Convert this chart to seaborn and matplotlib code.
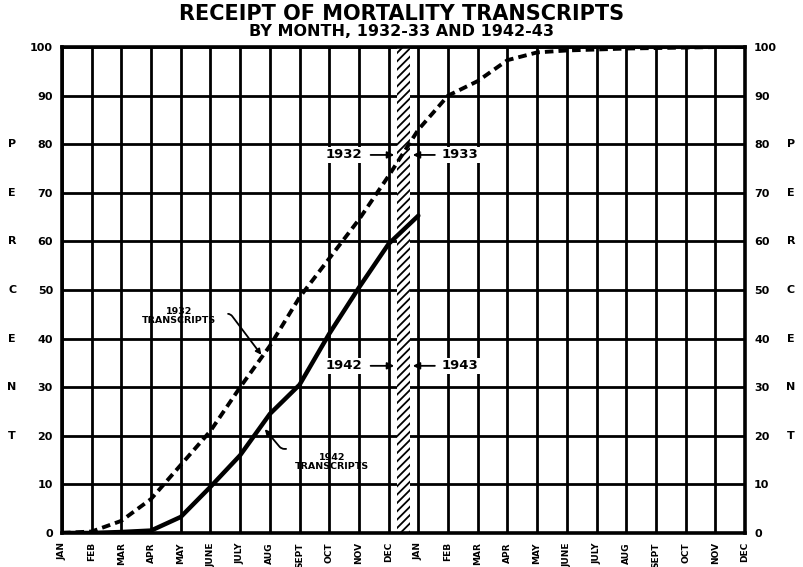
# Cumulative receipt of mortality transcripts, 1932-33 vs 1942-43

import pandas as pd
import seaborn as sns
import matplotlib.pyplot as plt

# Data (percent received, cumulative, by month)

months = ['JAN', 'FEB', 'MAR', 'APR', 'MAY', 'JUNE', 'JULY', 'AUG', 'SEPT', 'OCT', 'NOV', 'DEC']
month_labels = months + months

pct_1932 = [0, 0.3, 2.5, 7, 14, 21, 30, 38.5, 48.5, 56.5, 64.5, 73.5,
            83, 90, 93, 97.3, 98.9, 99.3, 99.5, 99.7, 99.8, 99.9, 100, 100]
pct_1942 = [0, 0, 0.2, 0.5, 3.3, 9.5, 16, 24.5, 30.5, 41, 50.5, 59.5, 65.3]

yticks = [0, 10, 20, 30, 40, 50, 60, 70, 80, 90, 100]
percent_letters = ['P', 'E', 'R', 'C', 'E', 'N', 'T']

df_1932 = pd.DataFrame({'month': range(len(pct_1932)), 'percent': pct_1932})
df_1942 = pd.DataFrame({'month': range(len(pct_1942)), 'percent': pct_1942})

# Configure plotting window

sns.set_style('white')
plt.rcParams['font.family'] = ['DejaVu Sans']
plt.rcParams['font.weight'] = 'bold'
plt.rcParams['text.color'] = 'black'
plt.rcParams['xtick.color'] = 'black'
plt.rcParams['ytick.color'] = 'black'
plt.rcParams['hatch.linewidth'] = 1.3

fig = plt.figure(figsize=(8.04, 5.67), dpi=100)
ax = fig.add_axes([0.0771, 0.060, 0.8495, 0.857])

# Heavy grid
for x in range(len(month_labels)):
    ax.axvline(x, color='black', lw=2.0, zorder=1)
for y in yticks:
    ax.axhline(y, color='black', lw=2.0, zorder=1)

# Year boundary band
ax.axvspan(11.28, 11.72, facecolor='white', edgecolor='black', hatch='////', lw=0, zorder=2)

sns.lineplot(data=df_1932, x='month', y='percent', ax=ax, color='black',
             lw=2.8, zorder=3)
ax.lines[-1].set_dashes((2.2, 1.3))
sns.lineplot(data=df_1942, x='month', y='percent', ax=ax, color='black',
             lw=3.2, zorder=3)

ax.set_xlim(0, 23)
ax.set_ylim(0, 100)
ax.set_xticks(range(len(month_labels)))
ax.set_xticklabels(month_labels, rotation=90, fontsize=6.5, fontweight='bold')
ax.set_yticks(yticks)
ax.set_yticklabels([str(v) for v in yticks], fontsize=8, fontweight='bold')
ax.tick_params(axis='y', left=False, right=False, labelleft=True, labelright=True, pad=3)
ax.tick_params(axis='x', bottom=False, pad=3)
ax.set_xlabel('')
ax.set_ylabel('')
for s in ax.spines.values():
    s.set_linewidth(2.6)
    s.set_color('black')

# PERCENT written down both sides
for letter, y in zip(percent_letters, [80, 70, 60, 50, 40, 30, 20]):
    ax.text(-1.68, y, letter, ha='center', va='center', fontsize=8, fontweight='bold')
    ax.text(24.55, y, letter, ha='center', va='center', fontsize=8, fontweight='bold')

# Titles
fig.text(0.5, 0.975, 'RECEIPT OF MORTALITY TRANSCRIPTS', ha='center', va='center',
         fontsize=15, fontweight='bold')
fig.text(0.5, 0.944, 'BY MONTH, 1932-33 AND 1942-43', ha='center', va='center',
         fontsize=11.5, fontweight='bold')

# Series labels with leaders
ax.text(3.95, 44.7, '1932\nTRANSCRIPTS', ha='center', va='center', fontsize=6.8,
        fontweight='bold', linespacing=1.0, zorder=4)
ax.annotate('', xy=(6.77, 36.2), xytext=(5.5, 45.1),
            arrowprops=dict(arrowstyle='-|>', color='black', lw=1.3, mutation_scale=8,
                            connectionstyle='angle,angleA=0,angleB=127,rad=3'))
ax.text(9.1, 14.6, '1942\nTRANSCRIPTS', ha='center', va='center', fontsize=6.8,
        fontweight='bold', linespacing=1.0, zorder=4)
ax.annotate('', xy=(6.77, 21.8), xytext=(7.64, 17.3),
            arrowprops=dict(arrowstyle='-|>', color='black', lw=1.3, mutation_scale=8,
                            connectionstyle='angle,angleA=180,angleB=-50,rad=3'))

# Year markers pointing at the band
for y, left, right in [(77.8, '1932', '1933'), (34.4, '1942', '1943')]:
    ax.text(9.5, y, left, ha='center', va='center', fontsize=9.5, fontweight='bold',
            bbox=dict(facecolor='white', edgecolor='none', pad=1), zorder=4)
    ax.text(13.4, y, right, ha='center', va='center', fontsize=9.5, fontweight='bold',
            bbox=dict(facecolor='white', edgecolor='none', pad=1), zorder=4)
    ax.annotate('', xy=(11.28, y), xytext=(10.3, y), zorder=4,
                arrowprops=dict(arrowstyle='-|>', color='black', lw=1.3, mutation_scale=10))
    ax.annotate('', xy=(11.72, y), xytext=(12.65, y), zorder=4,
                arrowprops=dict(arrowstyle='-|>', color='black', lw=1.3, mutation_scale=10))

fig.savefig('out.png', dpi=100)
